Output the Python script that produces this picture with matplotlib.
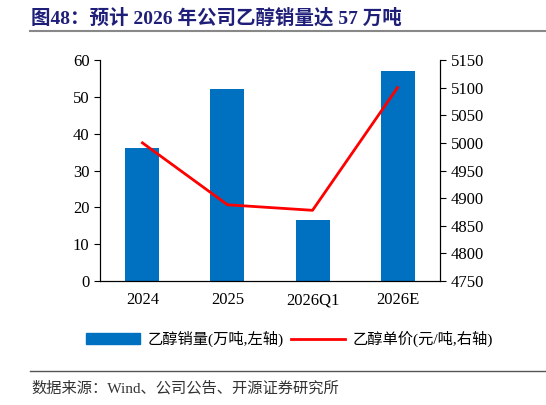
import matplotlib
matplotlib.use("Agg")
import matplotlib.pyplot as plt
from matplotlib.lines import Line2D

plt.rcParams['font.family'] = ['Liberation Serif', 'Noto Sans CJK SC']

categories = ['2024', '2025', '2026Q1', '2026E']
volume = [36, 52, 16.5, 57]
price = [5000, 4888, 4878, 5100]

fig = plt.figure(figsize=(5.46, 4.05), dpi=100)
ax = fig.add_axes([0.183, 0.306, 0.623, 0.546])
x = range(len(categories))
ax.bar(x, volume, width=0.4, color='#0070C0', label='乙醇销量(万吨,左轴)')
ax.set_ylim(0, 60)
ax.set_yticks(range(0, 61, 10))
ax.set_xlim(-0.5, 3.5)
ax.set_xticks(list(x))
ax.set_xticklabels(categories)
ax2 = ax.twinx()
ax2.plot(x, price, color='#FF0000', lw=2, label='乙醇单价(元/吨,右轴)')
ax2.set_ylim(4750, 5150)
ax2.set_yticks(range(4750, 5151, 50))
for a in (ax, ax2):
    a.spines['top'].set_visible(False)
    a.tick_params(labelsize=12, direction='out', length=4)
ax.tick_params(axis='x', length=0, pad=8)

fig.legend(handles=[plt.Rectangle((0, 0), 1, 1, color='#0070C0'),
                    Line2D([], [], color='#FF0000', lw=2)],
           labels=['乙醇销量(万吨,左轴)', '乙醇单价(元/吨,右轴)'],
           loc='center', bbox_to_anchor=(0.53, 0.163), ncol=2, frameon=False,
           fontsize=11, handlelength=3.5, columnspacing=0.5, handletextpad=0.5)

fig.text(0.057, 0.955, '图48：预计 2026 年公司乙醇销量达 57 万吨', fontsize=14,
         fontweight='bold', color='#1F1F7A', va='center')
fig.add_artist(Line2D([0.055, 1.0], [0.923, 0.923], color='#888888', lw=1.5))
fig.add_artist(Line2D([0.055, 1.0], [0.085, 0.085], color='#555555', lw=1))
fig.text(0.057, 0.04, '数据来源：Wind、公司公告、开源证券研究所', fontsize=11,
         color='#333333', va='center')
fig.savefig('out.png', dpi=100)
